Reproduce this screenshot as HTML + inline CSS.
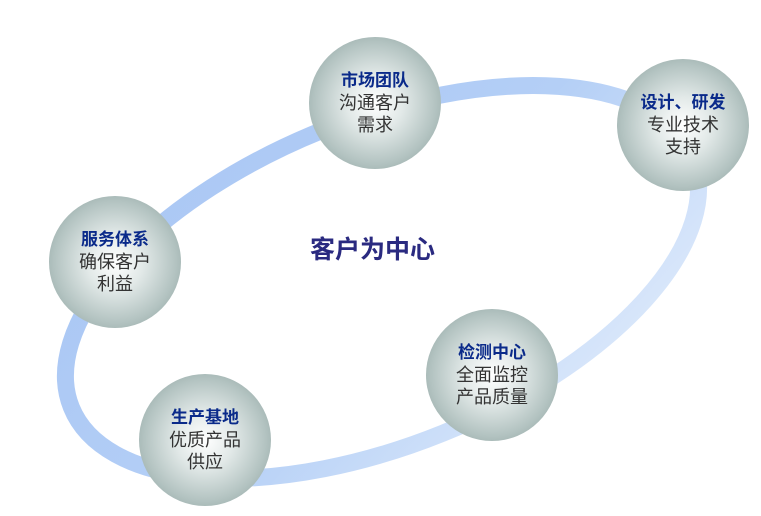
<!DOCTYPE html>
<html style="overflow:hidden"><head><meta charset="utf-8"><style>
html,body{margin:0;width:761px;height:516px;background:#fff;overflow:hidden}
body{position:relative;font-family:"Liberation Sans","Noto Sans CJK SC",sans-serif}
.c{position:absolute;width:132px;height:132px;border-radius:50%;background:radial-gradient(circle at 50% 50%,#ffffff 0%,#e2e9e8 30%,#b3c3c1 65%,#7f9592 100%);text-align:center;display:flex;flex-direction:column;justify-content:center;font-size:18px;line-height:22px;color:#333}
.c b{color:#0a2a8a;font-size:17px}
.t{position:absolute;left:310px;top:230px;font-size:25px;color:#2a2a80;font-weight:bold}
</style></head><body>
<svg width="761" height="516" style="position:absolute;left:0;top:0">
<defs><linearGradient id="g" x1="0" y1="0" x2="1" y2="1"><stop offset="0" stop-color="#a9c6f4"/><stop offset="0.5" stop-color="#b4cff6"/><stop offset="1" stop-color="#e4eefc"/></linearGradient></defs>
<ellipse cx="382" cy="282" rx="335" ry="163" transform="rotate(-22 382 282)" fill="none" stroke="url(#g)" stroke-width="17"/>
</svg>
<div class="c" style="left:309px;top:37px"><b>市场团队</b>沟通客户<br>需求</div>
<div class="c" style="left:617px;top:59px"><b>设计、研发</b>专业技术<br>支持</div>
<div class="c" style="left:49px;top:196px"><b>服务体系</b>确保客户<br>利益</div>
<div class="c" style="left:426px;top:309px"><b>检测中心</b>全面监控<br>产品质量</div>
<div class="c" style="left:139px;top:374px"><b>生产基地</b>优质产品<br>供应</div>
<div class="t">客户为中心</div>
</body></html>
